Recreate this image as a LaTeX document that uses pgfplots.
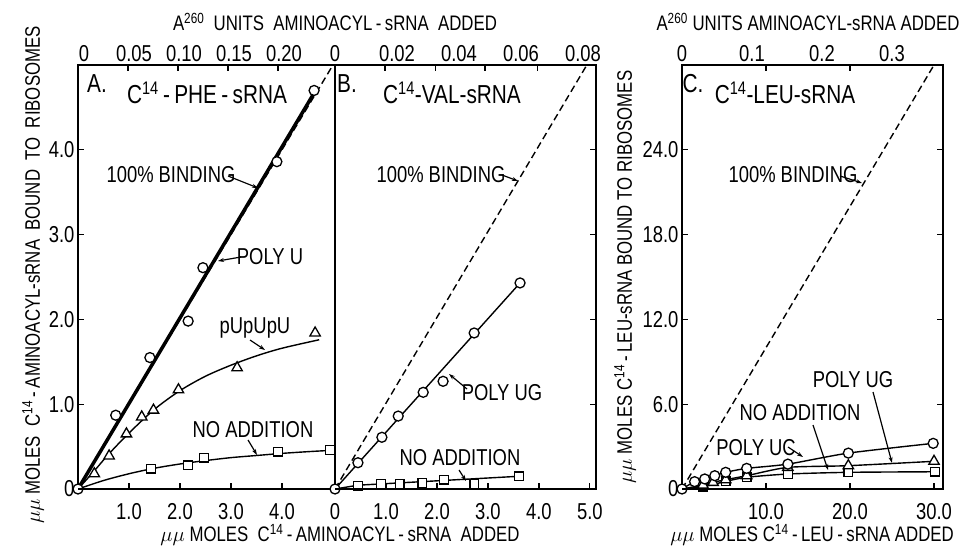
\documentclass[border=0pt]{standalone}
\usepackage{pgfplots}
\pgfplotsset{compat=1.18}
\usepackage{fontspec}
\setmainfont{Liberation Sans}[FakeStretch=0.8]
\usetikzlibrary{arrows.meta}

\newcommand{\lbl}{\fontsize{23}{27}\selectfont}
\newcommand{\axl}{\fontsize{21}{25}\selectfont}
\newcommand{\ttl}{\fontsize{26}{30}\selectfont}

\pgfplotsset{
  base/.style={scale only axis, anchor=south west, height=424pt, ymin=0, clip=false,
    scaled ticks=false,
    axis line style={line width=1.5pt},
    every tick/.style={black, line width=1.2pt},
    major tick length=6pt, tick align=inside,
    tick label style={font=\lbl},
    xticklabel style={yshift=-11pt}},
  toppanel/.style={base, hide y axis, ymax=1, xtick pos=right, xticklabel pos=right,
    xticklabel style={yshift=11pt}},
  curve/.style={black, line width=1.4pt},
  circ/.style={only marks, mark=*, mark size=5pt, mark options={fill=white, draw=black, line width=1.3pt}},
  sq/.style={only marks, mark=square*, mark size=4.3pt, mark options={fill=white, draw=black, line width=1.3pt}},
  tri/.style={only marks, mark=triangle*, mark size=6pt, mark options={fill=white, draw=black, line width=1.3pt}},
  full/.style={black, line width=1.4pt, dash pattern=on 7pt off 4pt},
}
\tikzset{lead/.style={line width=1.2pt, -{Stealth[length=6pt, width=4pt]}}}

\begin{document}
\begin{tikzpicture}[x=1pt, y=1pt]
\useasboundingbox (0,0) rectangle (963,547);

% ---------- panel A ----------
\begin{axis}[base, at={(78pt,58pt)}, width=257pt, xmin=0, xmax=5.04, ymax=5,
  xtick={1,2,3,4}, xticklabels={1.0,2.0,3.0,4.0}, xtick pos=left,
  ytick={0,1,2,3,4}, yticklabels={0,1.0,2.0,3.0,4.0}, ytick pos=left]
\addplot[full] coordinates {(0,0)(5,5)};
\addplot[black, line width=3.5pt] coordinates {(0,0)(4.68,4.72)};
\addplot[curve, smooth] coordinates {(0,0)(0.3,0.2)(0.6,0.41)(1.0,0.66)(1.5,0.94)(2.0,1.16)(2.5,1.33)(3.0,1.46)(3.5,1.57)(4.0,1.66)(4.73,1.76)};
\addplot[curve, smooth] coordinates {(0,0)(0.5,0.1)(1.0,0.18)(1.5,0.245)(2.0,0.295)(2.5,0.335)(3.0,0.37)(3.5,0.395)(4.0,0.42)(4.5,0.44)(4.94,0.455)};
\addplot[circ] coordinates {(0.74,0.87)(1.41,1.55)(2.16,1.98)(2.45,2.61)(3.90,3.86)(4.63,4.70)};
\addplot[tri] coordinates {(0.32,0.18)(0.61,0.39)(0.95,0.65)(1.25,0.85)(1.48,0.93)(1.97,1.17)(3.12,1.43)(4.65,1.84)};
\addplot[sq] coordinates {(1.43,0.24)(2.16,0.28)(2.47,0.37)(3.92,0.44)(4.94,0.46)};
\addplot[circ] coordinates {(0,0)};
\end{axis}
\begin{axis}[toppanel, at={(78pt,58pt)}, width=257pt, xmin=0, xmax=0.257,
  xtick={0,0.05,0.10,0.15,0.20}, xticklabels={0,0.05,0.10,0.15,0.20},
  xticklabel style={xshift=6pt}]
\end{axis}

% ---------- panel B ----------
\begin{axis}[base, at={(335pt,58pt)}, width=261pt, xmin=0, xmax=5.12, ymax=5,
  xtick={0,1,2,3,4,5}, xticklabels={0,1.0,2.0,3.0,4.0,5.0}, xtick pos=left,
  ytick={1,2,3,4}, yticklabels={}, ytick pos=right]
\addplot[full] coordinates {(0,0)(4.94,5)};
\addplot[curve] coordinates {(0,0)(3.63,2.43)};
\addplot[curve] coordinates {(0,0)(0.45,0.045)(3.61,0.15)};
\addplot[circ] coordinates {(0.45,0.31)(0.92,0.61)(1.24,0.86)(1.73,1.14)(2.12,1.27)(2.73,1.84)(3.63,2.43)};
\addplot[sq] coordinates {(0.45,0.04)(0.90,0.06)(1.27,0.06)(1.71,0.07)(2.14,0.11)(2.73,0.06)(3.61,0.15)};
\addplot[circ] coordinates {(0,0)};
\end{axis}
\begin{axis}[toppanel, at={(335pt,58pt)}, width=261pt, xmin=0, xmax=0.0842,
  xtick={0,0.02,0.04,0.06,0.08}, xticklabels={0,0.02,0.04,0.06,0.08},
  major tick length=0pt,
  extra x ticks={0.0161,0.0323,0.0484,0.0652}, extra x tick labels={},
  extra x tick style={major tick length=6pt}]
\end{axis}

% ---------- panel C ----------
\begin{axis}[base, at={(682pt,58pt)}, width=261pt, xmin=0, xmax=31.07, ymax=30,
  xtick={10,20,30}, xticklabels={10.0,20.0,30.0}, xtick pos=left,
  ytick={0,6,12,18,24}, yticklabels={0,6.0,12.0,18.0,24.0}, ytick pos=both, yticklabel pos=left]
\addplot[full] coordinates {(0,0)(30,30)};
\addplot[curve, smooth, tension=0.4] coordinates {(0,0)(1.5,0.52)(2.7,0.71)(3.9,0.94)(5.2,1.18)(7.7,1.46)(12.6,1.76)(19.8,2.54)(29.9,3.23)};
\addplot[curve, smooth, tension=0.4] coordinates {(0,0)(2.5,0.28)(3.7,0.47)(5.2,0.66)(7.7,0.94)(12.6,1.53)(19.8,1.65)(30,1.96)};
\addplot[curve, smooth, tension=0.4] coordinates {(0,0)(2.5,0.16)(5.2,0.54)(7.7,0.83)(12.6,1.06)(19.8,1.18)(30.1,1.22)};
\addplot[sq] coordinates {(2.5,0.16)(5.2,0.54)(7.7,0.83)(12.6,1.06)(19.8,1.18)(30.1,1.22)};
\addplot[tri] coordinates {(2.5,0.28)(3.7,0.47)(5.2,0.66)(7.7,0.94)(12.6,1.53)(19.8,1.65)(30,1.96)};
\addplot[circ] coordinates {(1.5,0.52)(2.7,0.71)(3.9,0.94)(5.2,1.18)(7.7,1.46)(12.6,1.76)(19.8,2.54)(29.9,3.23)};
\addplot[circ] coordinates {(0,0)};
\end{axis}
\begin{axis}[toppanel, at={(682pt,58pt)}, width=261pt, xmin=0, xmax=0.3729,
  xtick={0,0.1,0.2,0.3}, xticklabels={0,0.1,0.2,0.3},
  major tick length=0pt,
  extra x ticks={0.12,0.24}, extra x tick labels={},
  extra x tick style={major tick length=6pt}]
\end{axis}

% ---------- texts ----------
\node[font=\ttl] at (97,463) {A.};
\node[font=\ttl] at (207,454) {C\textsuperscript{14}\,-\,PHE\,-\,sRNA};
\node[font=\lbl] at (171,372) {100\%\ BINDING};
\draw[lead] (228,371) -- (258,359);
\node[font=\lbl] at (270,290) {POLY U};
\draw[lead] (241,290) -- (218,286);
\node[font=\lbl] at (255,219) {pUpUpU};
\draw[lead] (250,207) -- (265,197);
\node[font=\lbl] at (253,117) {NO ADDITION};
\draw[lead] (248,107) -- (257,92);

\node[font=\ttl] at (347,463) {B.};
\node[font=\ttl] at (452,454) {C\textsuperscript{14}-VAL-sRNA};
\node[font=\lbl] at (441,372) {100\%\ BINDING};
\draw[lead] (502,372) -- (518,366);
\node[font=\lbl] at (502,154) {POLY UG};
\draw[lead] (467,158) -- (449,173);
\node[font=\lbl] at (460,89) {NO ADDITION};
\draw[lead] (459,77) -- (466,66);

\node[font=\ttl] at (693,463) {C.};
\node[font=\ttl] at (785,454) {C\textsuperscript{14}-LEU-sRNA};
\node[font=\lbl] at (793,372) {100\%\ BINDING};
\draw[lead] (840,371) -- (862,364);
\node[font=\lbl] at (853,167) {POLY UG};
\draw[lead] (873,155) -- (892,84);
\node[font=\lbl] at (800,134) {NO ADDITION};
\draw[lead] (813,122) -- (828,77);
\node[font=\lbl] at (756,99) {POLY UC};
\draw[lead] (788,100) -- (803,90);

\node[font=\axl] at (335,525) {A\textsuperscript{260}\ \ UNITS\ \ AMINOACYL\,-\,sRNA\ \ ADDED};
\node[font=\axl] at (808,525) {A\textsuperscript{260} UNITS AMINOACYL-sRNA ADDED};
\node[font=\axl] at (340,12) {$\mu\mu$ MOLES\ \ C\textsuperscript{14}\,-\,AMINOACYL\,-\,sRNA\ \ ADDED};
\node[font=\axl] at (812,12) {$\mu\mu$ MOLES C\textsuperscript{14}\,-\,LEU\,-\,sRNA ADDED};
\node[font=\axl, rotate=90] at (33,272) {$\mu\mu$ MOLES\ \ C\textsuperscript{14}\,-\,AMINOACYL-sRNA\ \ BOUND\ \ TO\ \ RIBOSOMES};
\node[font=\axl, rotate=90] at (625,270) {$\mu\mu$ MOLES C\textsuperscript{14}\,-\,LEU-sRNA BOUND TO RIBOSOMES};
\end{tikzpicture}
\end{document}
